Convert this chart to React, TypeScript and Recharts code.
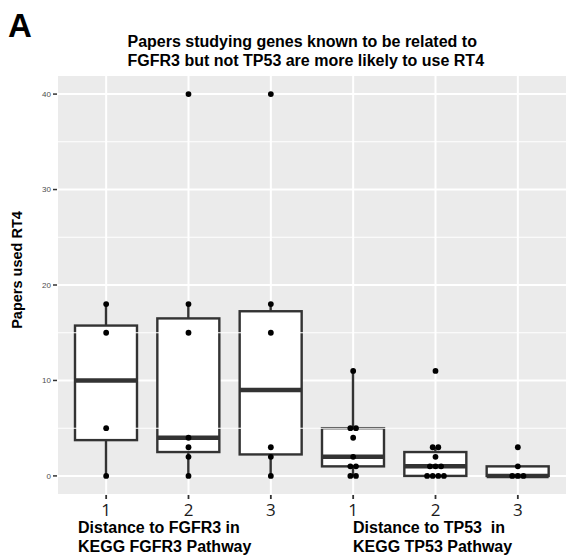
import React from "react";
import {
	ComposedChart,
	Bar,
	Scatter,
	XAxis,
	YAxis,
	CartesianGrid,
	ReferenceLine,
} from "recharts";

// groups on the x axis (unique keys) and what is printed under them
const groups = ["F1", "F2", "F3", "T1", "T2", "T3"];
const tickLabels = ["1", "2", "3", "1", "2", "3"];

// box statistics
const whiskerLow = [0, 0, 0, 0, 0, 0];
const lowerQuartile = [3.75, 2.5, 2.25, 1, 0, 0];
const medians = [10, 4, 9, 2, 1, 0];
const upperQuartile = [15.75, 16.5, 17.25, 5, 2.5, 1];
const whiskerHigh = [18, 18, 18, 11, 3, 1];

// individual papers per gene (dotplot)
const pointsF1 = [0, 5, 15, 18];
const pointsF2 = [0, 2, 3, 4, 15, 18, 40];
const pointsF3 = [0, 2, 3, 15, 18, 40];
const pointsT1 = [0, 0, 1, 1, 2, 4, 5, 5, 11];
const pointsT2 = [0, 0, 0, 0, 1, 1, 1, 2, 3, 3, 11];
const pointsT3 = [0, 0, 0, 1, 3];
const groupPoints = [pointsF1, pointsF2, pointsF3, pointsT1, pointsT2, pointsT3];

const yTicks = [0, 10, 20, 30, 40];
const yMinor = [5, 15, 25, 35];

const boxRows = groups.map((name, i) => ({
	name,
	lo: whiskerLow[i],
	q1: lowerQuartile[i],
	med: medians[i],
	q3: upperQuartile[i],
	hi: whiskerHigh[i],
}));

// stack equal values side by side like geom_dotplot
const dotRows = groups.flatMap((name, i) => {
	const vals = groupPoints[i];
	return vals.map((value, j) => ({
		name,
		value,
		slot: vals.slice(0, j).filter((v) => v === value).length,
		n: vals.filter((v) => v === value).length,
	}));
});

const INK = "#333333";

const BoxShape = (props: any) => {
	const { x, y, width, height, payload } = props;
	if (payload == null) return null;
	const top = Math.min(y, y + height);
	const h = Math.abs(height);
	const unit = h / (payload.hi - payload.lo || 1);
	const py = (v: number) => top + (payload.hi - v) * unit;
	const cx = x + width / 2;
	return (
		<g>
			<line x1={cx} x2={cx} y1={py(payload.hi)} y2={py(payload.q3)} stroke={INK} strokeWidth={2.4} />
			<line x1={cx} x2={cx} y1={py(payload.q1)} y2={py(payload.lo)} stroke={INK} strokeWidth={2.4} />
			<rect
				x={x}
				y={py(payload.q3)}
				width={width}
				height={py(payload.q1) - py(payload.q3)}
				fill="#ffffff"
				stroke={INK}
				strokeWidth={2.4}
			/>
			<line x1={x} x2={x + width} y1={py(payload.med)} y2={py(payload.med)} stroke={INK} strokeWidth={4.5} />
		</g>
	);
};

const DotShape = (props: any) => {
	const { cx, cy, payload } = props;
	if (cx == null || cy == null) return null;
	const off = (payload.slot - (payload.n - 1) / 2) * 5.6;
	return <circle cx={cx + off} cy={cy} r={2.9} fill="#000000" />;
};

// tickSize/tickMargin are 0, so y is the panel's bottom edge
const XTick = (props: any) => {
	const { x, y, payload, index } = props;
	return (
		<g>
			<line x1={x} x2={x} y1={y} y2={y + 4} stroke={INK} strokeWidth={1.8} />
			<text
				x={x}
				y={y + 20.5}
				textAnchor="middle"
				fontFamily="'Open Sans', sans-serif"
				fontSize={17}
				fill="#1a1a1a"
			>
				{tickLabels[index] ?? payload.value}
			</text>
		</g>
	);
};

export default function App() {
	return (
		<div
			style={{
				position: "absolute",
				left: 0,
				top: 0,
				width: 567,
				height: 557,
				background: "#fff",
				fontFamily: "'Liberation Sans', Arial, sans-serif",
			}}
		>
			<ComposedChart
				width={567}
				height={557}
				data={boxRows}
				margin={{ top: 75, right: 0, bottom: 0, left: 0 }}
			>
				<CartesianGrid fill="#ebebeb" stroke="#ffffff" strokeWidth={2} />
				{yMinor.map((v) => (
					<ReferenceLine key={v} y={v} stroke="#ffffff" strokeWidth={1.1} />
				))}
				<XAxis
					dataKey="name"
					type="category"
					allowDuplicatedCategory={false}
					height={62}
					padding={{ left: 8, right: 8 }}
					axisLine={false}
					tickLine={false}
					tickSize={0}
					tickMargin={0}
					tick={<XTick />}
					interval={0}
				/>
				<YAxis
					type="number"
					domain={[-2, 42]}
					ticks={yTicks}
					allowDataOverflow
					width={57}
					axisLine={false}
					tickSize={4}
					tickMargin={2}
					tickLine={{ stroke: INK, strokeWidth: 1.5 }}
					tick={{ fontSize: 8, fill: "#4d4d4d" }}
				/>
				<Bar
					dataKey={(d: any) => [d.lo, d.hi]}
					barSize={62}
					shape={<BoxShape />}
					isAnimationActive={false}
				/>
				<Scatter
					data={dotRows}
					dataKey="value"
					shape={<DotShape />}
					isAnimationActive={false}
				/>
			</ComposedChart>
			<svg
				width={567}
				height={557}
				style={{ position: "absolute", left: 0, top: 0, pointerEvents: "none" }}
			>
				<g fontWeight="bold" fill="#000">
					<text x={8} y={37} fontSize={33}>A</text>
					<text x={127.5} y={47} fontSize={16}>
						Papers studying genes known to be related to
					</text>
					<text x={127.5} y={65.5} fontSize={16}>
						FGFR3 but not TP53 are more likely to use RT4
					</text>
					<text
						x={0}
						y={0}
						fontSize={14.5}
						textAnchor="middle"
						transform="translate(21.5,270) rotate(-90)"
					>
						Papers used RT4
					</text>
					<text x={78} y={532.5} fontSize={16}>Distance to FGFR3 in</text>
					<text x={78} y={552} fontSize={16}>KEGG FGFR3 Pathway</text>
					<text x={353} y={532.5} fontSize={16} style={{ whiteSpace: "pre" }}>
						{"Distance to TP53  in"}
					</text>
					<text x={353} y={552} fontSize={16}>KEGG TP53 Pathway</text>
				</g>
			</svg>
		</div>
	);
}
